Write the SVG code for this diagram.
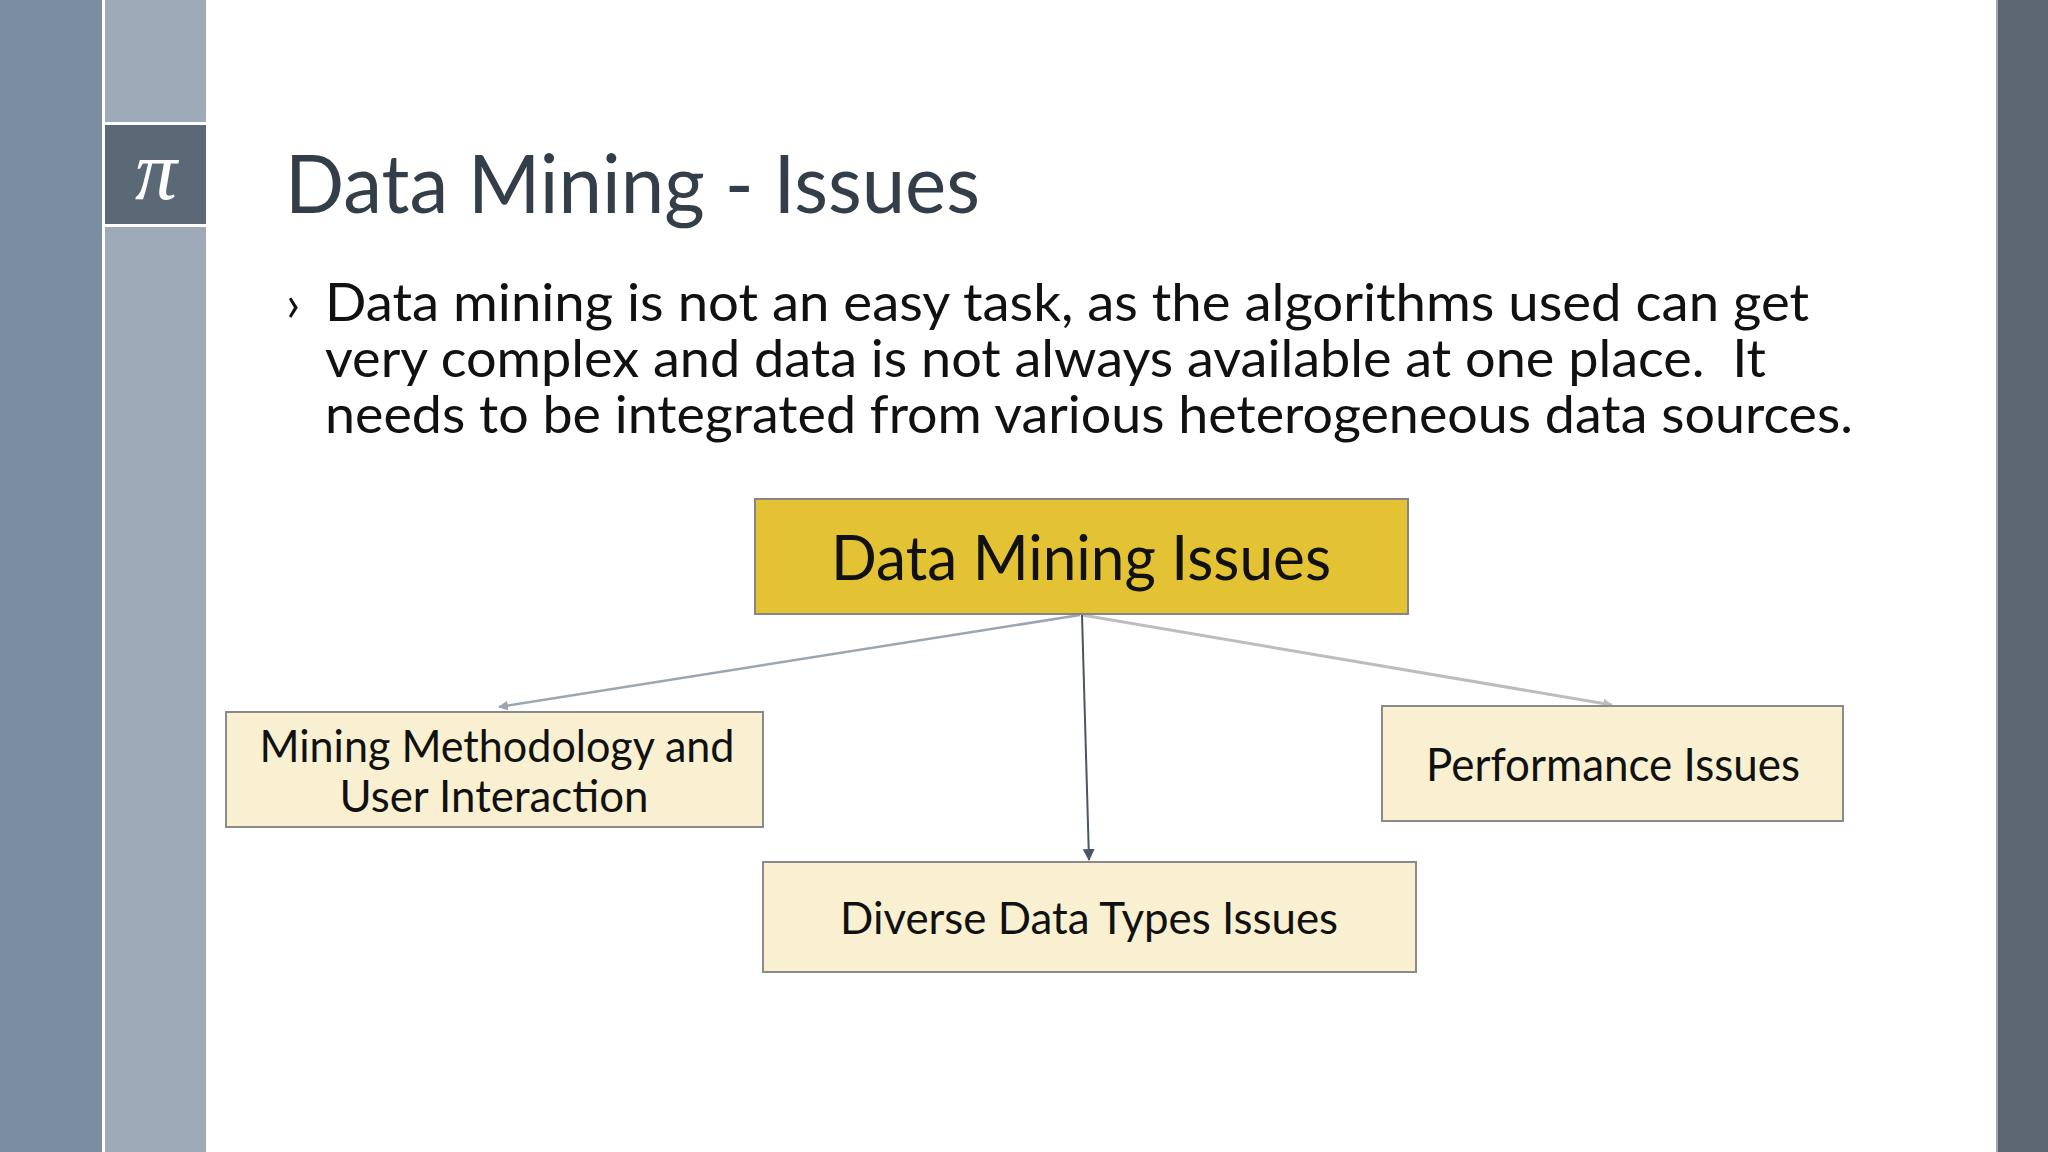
<svg xmlns="http://www.w3.org/2000/svg" width="2048" height="1152" viewBox="0 0 2048 1152">
<style>
.t{font-family:Lato,"Open Sans","Liberation Sans",sans-serif}
.main{fill:#e3c234;stroke:#858585;stroke-width:2}
.sub{fill:#f8f0d0;stroke:#8a8a8a;stroke-width:2}
.lbl{font-family:Lato,"Open Sans","Liberation Sans",sans-serif;fill:#111;text-anchor:middle}
</style>
<defs>
<marker id="ag" markerWidth="10" markerHeight="10" refX="9" refY="5" orient="auto" markerUnits="userSpaceOnUse"><path d="M0,0 L10,5 L0,10 z" fill="#9ca6b0"/></marker>
<marker id="al" markerWidth="10" markerHeight="10" refX="9" refY="5" orient="auto" markerUnits="userSpaceOnUse"><path d="M0,0 L10,5 L0,10 z" fill="#bdbdbd"/></marker>
<marker id="ad" markerWidth="12" markerHeight="12" refX="11" refY="6" orient="auto" markerUnits="userSpaceOnUse"><path d="M0,0 L12,6 L0,12 z" fill="#4b5663"/></marker>
</defs>
<rect width="2048" height="1152" fill="#ffffff"/>
<g id="sidebar">
<rect x="0" y="0" width="102" height="1152" fill="#7b8ea1"/>
<rect x="105" y="0" width="101" height="1152" fill="#9eaab7"/>
<rect x="105" y="122" width="101" height="3" fill="#ffffff"/>
<rect x="105" y="125" width="101" height="99" fill="#5b6875"/>
<rect x="105" y="224" width="101" height="3" fill="#ffffff"/>
<text x="156" y="199" font-family="'Liberation Serif',serif" font-style="italic" font-size="84" fill="#ffffff" text-anchor="middle">π</text>
<rect x="1996" y="0" width="2" height="1152" fill="#a0a6ad"/>
<rect x="1998" y="0" width="50" height="1152" fill="#5c6773"/>
</g>
<g id="title">
<text class="t" x="285" y="213" font-size="82" fill="#343e48" textLength="695" lengthAdjust="spacingAndGlyphs">Data Mining - Issues</text>
</g>
<g id="body" fill="#111111">
<text class="t" x="286" y="321" font-size="50">›</text>
<text class="t" font-size="53"><tspan x="325" y="321" textLength="1484" lengthAdjust="spacingAndGlyphs">Data mining is not an easy task, as the algorithms used can get</tspan><tspan x="325" y="377" textLength="1441" lengthAdjust="spacingAndGlyphs">very complex and data is not always available at one place.&#160; It</tspan><tspan x="325" y="433" textLength="1528" lengthAdjust="spacingAndGlyphs">needs to be integrated from various heterogeneous data sources.</tspan></text>
</g>
<g id="connectors" fill="none">
<line x1="1080" y1="615" x2="499" y2="707" stroke="#9ca6b0" stroke-width="2.5" marker-end="url(#ag)"/>
<line x1="1082" y1="615" x2="1612" y2="705" stroke="#bdbdbd" stroke-width="3" marker-end="url(#al)"/>
<line x1="1082" y1="615" x2="1089" y2="860" stroke="#4b5663" stroke-width="2" marker-end="url(#ad)"/>
</g>
<g id="node-root">
<rect class="main" x="755" y="499" width="653" height="115"/>
<text class="lbl" x="1081" y="580" font-size="62" textLength="500" lengthAdjust="spacingAndGlyphs">Data Mining Issues</text>
</g>
<g id="node-methodology">
<rect class="sub" x="226" y="712" width="537" height="115"/>
<text class="lbl" x="497" y="762" font-size="45" textLength="475" lengthAdjust="spacingAndGlyphs">Mining Methodology and</text>
<text class="lbl" x="494" y="812" font-size="45" textLength="309" lengthAdjust="spacingAndGlyphs">User Interaction</text>
</g>
<g id="node-performance">
<rect class="sub" x="1382" y="706" width="461" height="115"/>
<text class="lbl" x="1613" y="781" font-size="46" textLength="374" lengthAdjust="spacingAndGlyphs">Performance Issues</text>
</g>
<g id="node-diverse">
<rect class="sub" x="763" y="862" width="653" height="110"/>
<text class="lbl" x="1089" y="934" font-size="44" textLength="498" lengthAdjust="spacingAndGlyphs">Diverse Data Types Issues</text>
</g>
</svg>
